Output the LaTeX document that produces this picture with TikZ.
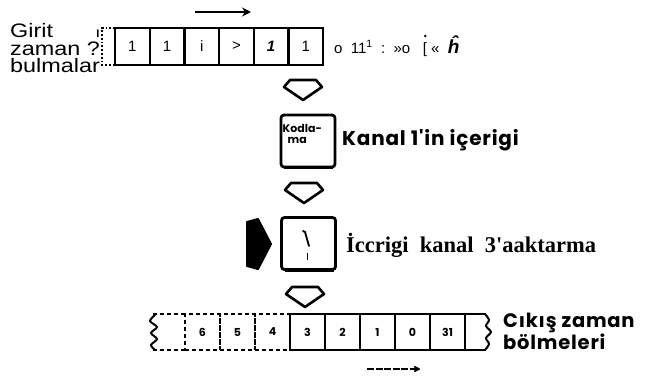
\documentclass[tikz,border=0pt]{standalone}
\usepackage{fontspec}
\setmainfont{Liberation Sans}
\newfontfamily\lsans{Liberation Sans}
\newfontfamily\lsanswide{Liberation Sans}[FakeStretch=1.2]
\newfontfamily\lserif{Liberation Serif}
\newfontfamily\geo{Poppins}
\newfontfamily\geowide{Poppins}[LetterSpace=4]
\usetikzlibrary{arrows.meta}
\begin{document}
\begin{tikzpicture}[x=1pt,y=-1pt,
  tcell/.style={draw, line width=2.2pt, minimum width=34.7pt, minimum height=37pt, inner sep=0pt, outer sep=0pt, font=\lsans\fontsize{15}{15}\selectfont},
  bcell/.style={draw, line width=2.2pt, minimum width=35pt, minimum height=36pt, inner sep=0pt, outer sep=0pt, font=\geo\bfseries\fontsize{11}{11}\selectfont},
  dcell/.style={bcell, dash pattern=on 4pt off 3pt, line width=1.8pt},
  chan/.style={draw, line width=2.8pt, rounded corners=3pt, minimum width=54pt, minimum height=52pt, inner sep=0pt, outer sep=0pt},
  harrow/.style={draw, line width=2.6pt, line join=round, fill=white},
  flow/.style={line width=2.4pt, -{Stealth[length=9pt,width=9pt]}},
  harrowpic/.pic={\path[harrow] (-13,0) -- (13,0) -- (19,7) -- (0,20) -- (-19,7) -- cycle;},
]
\useasboundingbox (0,0) rectangle (645,376);
\fill[white] (0,0) rectangle (645,376);

% ---- input row ----
\node[anchor=north west, align=left, inner sep=0pt, font=\lsanswide\fontsize{19.5}{17.5}\selectfont] (lab) at (10,23.5) {Girit\\zaman ?\\bulmalar};
\node[anchor=base, inner sep=0pt, font=\lsans\bfseries\fontsize{11}{11}\selectfont] (lab0) at (98,37) {I};

\coordinate (ta1) at (195,12);
\coordinate (ta2) at (251,12);
\draw[flow] (ta1) -- (ta2);

\node[tcell] (t1) at (132.35,46.5) {1};
\node[tcell] (t2) at (167.05,46.5) {1};
\node[tcell] (t3) at (201.75,46.5) {i};
\node[tcell] (t4) at (236.45,46.5) {>};
\node[tcell] (t5) at (271.15,46.5) {\bfseries\itshape 1};
\node[tcell] (t6) at (305.85,46.5) {1};
\draw[dotted, line width=1.8pt] (t1.north west) -- ++(-13,0) -- ++(0,37) -- (t1.south west);

\node[anchor=base west, inner sep=0pt, font=\lsans\fontsize{15}{15}\selectfont] (rtext) at (334,53)
  {o\ \ 11\textsuperscript{1}\ \ :\ \ »o\ \ \ [\ «\ \ {\fontsize{19}{19}\selectfont\bfseries\itshape ĥ}};
\fill (425.3,36) circle (1.4);

% ---- down arrows ----
\pic at (303,80) {harrowpic};
\pic at (304,183) {harrowpic};
\pic at (305,287) {harrowpic};

% ---- channel 1 box ----
\node[chan] (enc) at (308,141) {};
\draw[line width=2pt] ([xshift=3pt,yshift=-1.2pt]enc.south west) -- ([xshift=-2pt,yshift=-1.2pt]enc.south east);
\node[anchor=north west, align=left, inner sep=0pt, font=\geo\bfseries\fontsize{11}{11}\selectfont] (enct) at (282.5,124.5) {Kodla-\\\hspace*{5pt}ma};
\node[anchor=west, inner sep=0pt, font=\geowide\bfseries\fontsize{20}{20}\selectfont] (k1) at (342,140) {Kanal 1'in içerigi};

% ---- channel 3 box ----
\draw[line width=2pt, line join=round, fill=black] (247,222) -- (258,219) -- (271,244) -- (258,269) -- (247,266) -- cycle;
\node[chan] (swb) at (308.5,243.5) {};
\draw[line width=2pt] ([xshift=3pt,yshift=-1.2pt]swb.south west) -- ([xshift=-2pt,yshift=-1.2pt]swb.south east);
\draw[line width=1.8pt, line cap=round] (303,231) -- (305,232) -- (309,246);
\draw[line width=1.8pt] (307.5,253) -- (307.5,260);
\node[anchor=west, inner sep=0pt, font=\lserif\bfseries\fontsize{22.5}{22.5}\selectfont] (k3) at (346,245) {İccrigi\ \ kanal\ \ 3'aaktarma};

% ---- output row ----
\node[dcell] (b6) at (202.5,332) {6};
\node[dcell] (b5) at (237.5,332) {5};
\node[dcell] (b4) at (272.5,332) {4};
\draw[dash pattern=on 4pt off 3pt, line width=1.8pt] (b6.north west) -- ++(-33,0);
\draw[dash pattern=on 4pt off 3pt, line width=1.8pt] (b6.south west) -- ++(-33,0);
\draw[line width=2pt, line cap=round] plot[smooth] coordinates {(155,315) (150,321) (157,327) (151,333) (157,339) (151,345) (155,350)};
\node[bcell] (b3) at (307.5,332) {3};
\node[bcell] (b2) at (342.5,332) {2};
\node[bcell] (b1) at (377.5,332) {1};
\node[bcell] (b0) at (412.5,332) {0};
\node[bcell] (b31) at (447.5,332) {31};
\draw[line width=2.2pt] (b31.north east) -- ++(21,0);
\draw[line width=2.2pt] (b31.south east) -- ++(21,0);
\draw[line width=2pt, line cap=round] plot[smooth] coordinates {(485,314) (489,320) (486,326) (491,332) (486,338) (489,344) (485,350)};

\node[anchor=north west, align=left, inner sep=0pt, font=\geowide\bfseries\fontsize{19.5}{18.5}\selectfont] (out) at (503,313) {Cıkış zaman\\bölmeleri};

\coordinate (ba1) at (367,369);
\coordinate (ba2) at (420,369);
\draw[line width=2.4pt, dash pattern=on 7pt off 1.5pt, -{Stealth[round,length=8pt,width=8pt]}] (ba1) -- (ba2);
\end{tikzpicture}
\end{document}
